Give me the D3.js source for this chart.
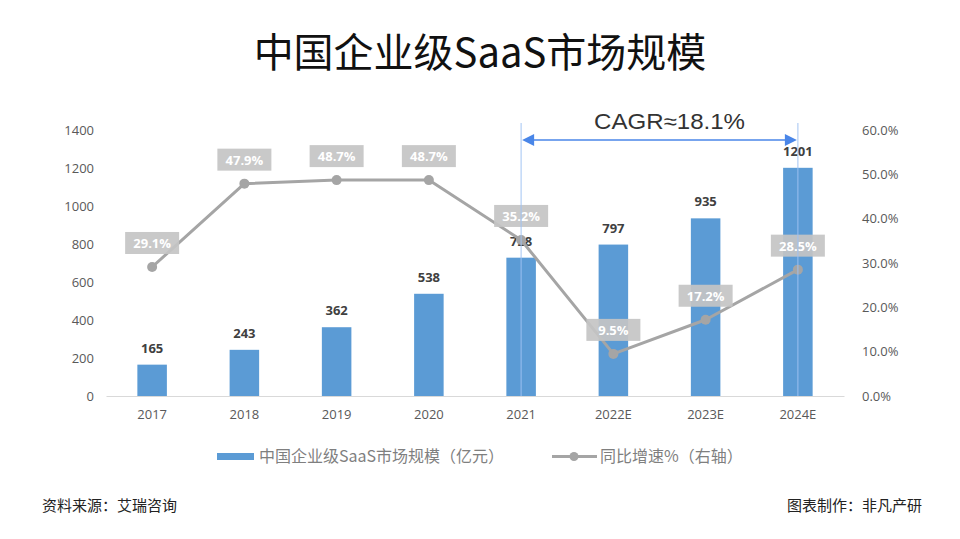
<!DOCTYPE html>
<html>
<head>
<meta charset="utf-8">
<script src="https://cdn.jsdelivr.net/npm/d3@7"></script>
<style>
  html, body { margin: 0; padding: 0; background: #fff; }
  svg { display: block; font-family: "Noto Sans CJK SC", "Noto Sans", sans-serif; }
</style>
</head>
<body>
<svg id="chart" width="960" height="539"></svg>
<script>
const categories = ["2017", "2018", "2019", "2020", "2021", "2022E", "2023E", "2024E"];
const marketSize = [165, 243, 362, 538, 728, 797, 935, 1201];
const growthRate = [29.1, 47.9, 48.7, 48.7, 35.2, 9.5, 17.2, 28.5];
const leftTicks = [0, 200, 400, 600, 800, 1000, 1200, 1400];
const rightTicks = [0, 10, 20, 30, 40, 50, 60];
const titleText = "中国企业级SaaS市场规模";
const legendBar = "中国企业级SaaS市场规模（亿元）";
const legendLine = "同比增速%（右轴）";
const sourceText = "资料来源：艾瑞咨询";
const makerText = "图表制作：非凡产研";
const cagrText = "CAGR≈18.1%";
const cagrFrom = "2021", cagrTo = "2024E";

const svg = d3.select("#chart");
const plot = { left: 106, right: 844, top: 130, bottom: 396 };

const x = d3.scaleBand().domain(categories).range([plot.left, plot.right]).paddingInner(0.68).paddingOuter(0.34);
const yL = d3.scaleLinear().domain([0, 1400]).range([plot.bottom, plot.top]);
const yR = d3.scaleLinear().domain([0, 60]).range([plot.bottom, plot.top]);
const cx = d => x(d) + x.bandwidth() / 2;

// Title
svg.append("text").attr("x", 480).attr("y", 67).attr("text-anchor", "middle")
  .attr("font-size", 40).attr("fill", "#111").text(titleText);

// Left axis
const axL = svg.append("g").attr("transform", `translate(${plot.left - 12},0)`)
  .call(d3.axisLeft(yL).tickValues(leftTicks).tickSize(0).tickPadding(0).tickFormat(d3.format("d")));
axL.select(".domain").remove();
axL.selectAll("text").attr("font-size", 13).attr("fill", "#595959").attr("font-family", "'Open Sans', 'Noto Sans', sans-serif");

// Right axis
const axR = svg.append("g").attr("transform", `translate(${plot.right + 18},0)`)
  .call(d3.axisRight(yR).tickValues(rightTicks).tickSize(0).tickPadding(0).tickFormat(d => d.toFixed(1) + "%"));
axR.select(".domain").remove();
axR.selectAll("text").attr("font-size", 13).attr("fill", "#595959").attr("font-family", "'Open Sans', 'Noto Sans', sans-serif");

// X axis
const axX = svg.append("g").attr("transform", `translate(0,${plot.bottom})`)
  .call(d3.axisBottom(x).tickSize(0).tickPadding(14));
axX.select(".domain").attr("stroke", "#d9d9d9").attr("stroke-width", 1.2);
axX.selectAll("text").attr("font-size", 13).attr("fill", "#595959").attr("font-family", "'Open Sans', 'Noto Sans', sans-serif");

// Bars
svg.append("g").selectAll("rect").data(categories).join("rect")
  .attr("x", d => x(d)).attr("width", x.bandwidth())
  .attr("y", (d, i) => yL(marketSize[i]))
  .attr("height", (d, i) => yL(0) - yL(marketSize[i]))
  .attr("fill", "#5b9bd5");

// Bar labels
svg.append("g").selectAll("text").data(categories).join("text")
  .attr("x", d => cx(d)).attr("y", (d, i) => yL(marketSize[i]) - 12)
  .attr("text-anchor", "middle").attr("font-size", 13).attr("font-weight", "bold")
  .attr("fill", "#404040").attr("font-family", "'Open Sans', 'Noto Sans', sans-serif")
  .text((d, i) => marketSize[i]);

// Line
const line = d3.line().x((d, i) => cx(categories[i])).y(d => yR(d));
svg.append("path").datum(growthRate).attr("d", line)
  .attr("fill", "none").attr("stroke", "#a5a5a5").attr("stroke-width", 3).attr("stroke-linejoin", "round");
svg.append("g").selectAll("circle").data(growthRate).join("circle")
  .attr("cx", (d, i) => cx(categories[i])).attr("cy", d => yR(d)).attr("r", 5)
  .attr("fill", "#a5a5a5");

// Line labels
const lbl = svg.append("g").selectAll("g").data(growthRate).join("g")
  .attr("transform", (d, i) => `translate(${cx(categories[i])},${yR(d) - 24})`);
lbl.append("rect").attr("x", -27).attr("y", -11).attr("width", 54).attr("height", 22)
  .attr("fill", "#c4c4c4").attr("fill-opacity", 0.92);
lbl.append("text").attr("y", 5).attr("text-anchor", "middle").attr("font-size", 13)
  .attr("font-weight", "bold").attr("fill", "#fff").attr("font-family", "'Open Sans', 'Noto Sans', sans-serif")
  .text(d => d.toFixed(1) + "%");

// CAGR annotation
const x1 = cx(cagrFrom), x2 = cx(cagrTo);
const ann = svg.append("g");
[x1, x2].forEach(xx => {
  ann.append("line").attr("x1", xx).attr("x2", xx).attr("y1", 123).attr("y2", plot.bottom)
    .attr("stroke", "#9fc2f3").attr("stroke-width", 1.2).attr("stroke-opacity", 0.8);
});
ann.append("line").attr("x1", x1 + 10).attr("x2", x2 - 10).attr("y1", 140).attr("y2", 140)
  .attr("stroke", "#4a86e8").attr("stroke-width", 1.5);
ann.append("path").attr("d", `M${x1 + 1},140 L${x1 + 13},134 L${x1 + 13},146 Z`).attr("fill", "#4a86e8");
ann.append("path").attr("d", `M${x2 - 1},140 L${x2 - 13},134 L${x2 - 13},146 Z`).attr("fill", "#4a86e8");
ann.append("text").attr("x", 594).attr("y", 129)
  .attr("font-size", 22).attr("fill", "#333").attr("font-family", "'Liberation Sans', Arial, sans-serif")
  .attr("textLength", 151).attr("lengthAdjust", "spacingAndGlyphs")
  .text(cagrText);

// Legend
const lg = svg.append("g");
lg.append("rect").attr("x", 217).attr("y", 453).attr("width", 37).attr("height", 7).attr("fill", "#5b9bd5");
lg.append("text").attr("x", 259).attr("y", 462).attr("font-size", 16).attr("fill", "#7f7f7f").text(legendBar);
lg.append("line").attr("x1", 552).attr("x2", 597).attr("y1", 456.5).attr("y2", 456.5)
  .attr("stroke", "#a5a5a5").attr("stroke-width", 3);
lg.append("circle").attr("cx", 574).attr("cy", 456.5).attr("r", 4.5).attr("fill", "#a5a5a5");
lg.append("text").attr("x", 600).attr("y", 462).attr("font-size", 16).attr("fill", "#7f7f7f").text(legendLine);

// Footer
svg.append("text").attr("x", 42).attr("y", 511).attr("font-size", 15).attr("fill", "#222").text(sourceText);
svg.append("text").attr("x", 922).attr("y", 511).attr("text-anchor", "end").attr("font-size", 15).attr("fill", "#222").text(makerText);
</script>
</body>
</html>
